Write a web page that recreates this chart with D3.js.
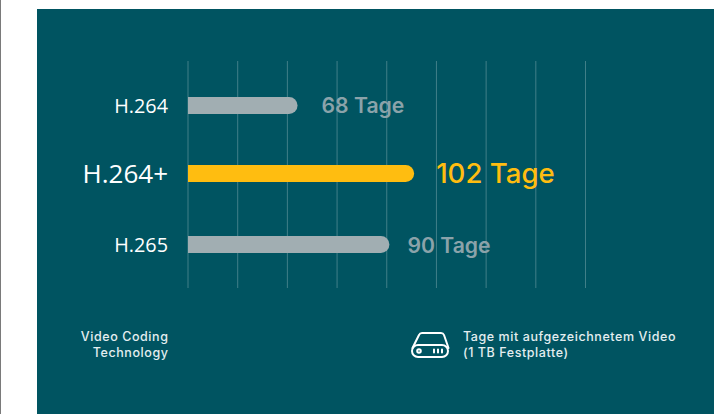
<!DOCTYPE html>
<html><head><meta charset="utf-8">
<script src="https://cdn.jsdelivr.net/npm/d3@7"></script>
<style>html,body{margin:0;padding:0;background:#fff}svg{display:block}</style></head>
<body><svg id="c" width="719" height="414"></svg>
<script>
const categories = ["H.264", "H.264+", "H.265"];
const barValues = [49.6, 102.4, 91.2];
const labelValues = [68, 102, 90];
const unit = "Tage";
const gridTicks = [0, 22.5, 45, 67.5, 90, 112.5, 135, 157.5, 180];
const colors = ["#a1aeb2", "#ffbd10", "#a1aeb2"];
const labelColors = ["#8ba3aa", "#ffbd10", "#8ba3aa"];
const catSizes = [19.8, 26, 19.8];
const valSizes = [21.2, 27.6, 21.2];
const valDy = [0, -0.5, 1];
const barH = [17, 17, 17];
const centers = [105.5, 173.5, 244.5];
const leftNote = ["Video Coding", "Technology"];
const rightNote = ["Tage mit aufgezeichnetem Video", "(1 TB Festplatte)"];

const svg = d3.select("#c");
svg.append("rect").attr("x",0).attr("y",0).attr("width",1).attr("height",414).attr("fill","#7a7a7a");
svg.append("rect").attr("x",37).attr("y",9).attr("width",677).attr("height",405).attr("fill","#005461");

const x = d3.scaleLinear().domain([0,180]).range([188,585.5]);
const y = d3.scaleOrdinal().domain(categories).range(centers);

svg.append("g").selectAll("line").data(gridTicks).join("line")
  .attr("x1",d=>x(d)).attr("x2",d=>x(d)).attr("y1",61).attr("y2",288)
  .attr("stroke","#ffffff").attr("stroke-opacity",0.25).attr("stroke-width",1);

const barPath = (d,i) => {
  const h = barH[i], r = h/2, x0 = x(0), x1 = x(d), t = y(categories[i]) - r;
  const p = d3.path();
  p.moveTo(x0,t); p.lineTo(x1-r,t);
  p.arc(x1-r,t+r,r,-Math.PI/2,Math.PI/2);
  p.lineTo(x0,t+h); p.closePath();
  return p.toString();
};
svg.append("g").selectAll("path").data(barValues).join("path")
  .attr("d",barPath).attr("fill",(d,i)=>colors[i]);

svg.append("g").selectAll("text").data(categories).join("text")
  .attr("x",168).attr("y",(d,i)=>y(d)+(i===1?0:0.5)).attr("dy","0.36em").attr("text-anchor","end")
  .attr("font-family","'Open Sans'")
  .attr("font-size",(d,i)=>catSizes[i]).attr("font-weight",(d,i)=>i===1?500:400)
  .attr("fill","#fff").text(d=>d);

svg.append("g").selectAll("text").data(labelValues).join("text")
  .attr("x",(d,i)=>x(barValues[i])+(i===1?22:i===0?24:18))
  .attr("y",(d,i)=>y(categories[i])+valDy[i]).attr("dy","0.36em")
  .attr("font-family","Inter")
  .attr("font-size",(d,i)=>valSizes[i]).attr("font-weight",(d,i)=>i===1?500:600)
  .attr("fill",(d,i)=>labelColors[i]).text(d=>d+" "+unit);

const note = {"font-family":"Inter","font-size":12.5,"font-weight":500,"fill":"#e4eef0","letter-spacing":0.57};
const lt = svg.append("g").selectAll("text").data(leftNote).join("text")
  .attr("x",168.5).attr("y",(d,i)=>341+i*16).attr("text-anchor","end").text(d=>d);
const rt = svg.append("g").selectAll("text").data(rightNote).join("text")
  .attr("x",463).attr("y",(d,i)=>341+i*16).text(d=>d);
[lt,rt].forEach(s=>Object.entries(note).forEach(([k,v])=>s.attr(k,v)));

const icon = svg.append("g").attr("fill","none").attr("stroke","#fff").attr("stroke-width",2).attr("stroke-linecap","round").attr("stroke-linejoin","round");
icon.append("path").attr("d","M412.5 348 L419 335 Q419.8 333 422 333 L441 333 Q443.2 333 444 335 L448.5 348");
icon.append("rect").attr("x",412).attr("y",345).attr("width",36).attr("height",12).attr("rx",6);
icon.append("circle").attr("cx",419).attr("cy",351).attr("r",1.8);
icon.append("path").attr("d","M434 349.5V352.5M438 349.5V352.5M442 349.5V352.5");
</script></body></html>
